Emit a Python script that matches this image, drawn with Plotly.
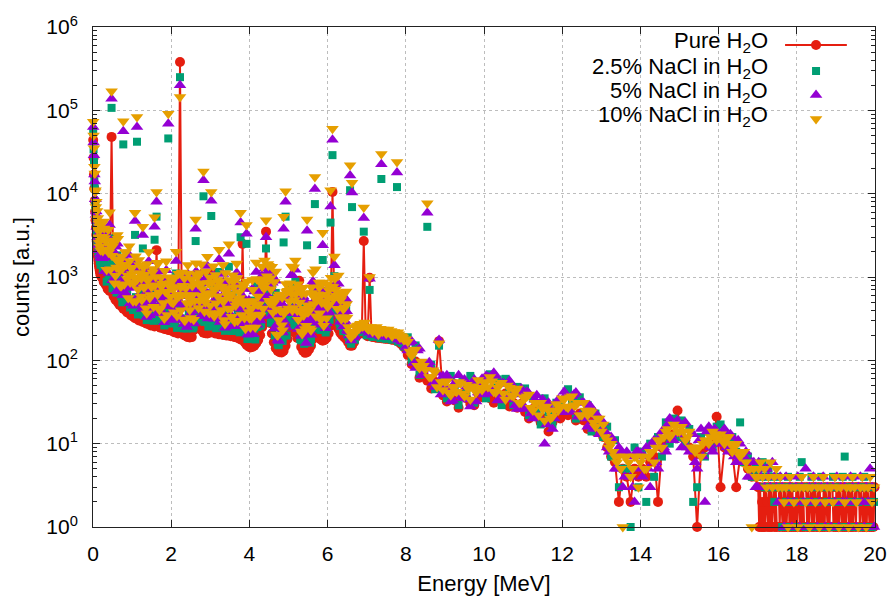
import numpy as np
import plotly.graph_objects as go

# ---------------- data (counts per energy bin) ----------------
# energy segments: (first bin centre [MeV], bin width [MeV])
SEG_A = (0.005, 0.01)
SEG_B = (0.225, 0.05)
SEG_B_MID = (0.25, 0.05)
SEG_B_UP = (0.2375, 0.05)
SEG_C = (8.05, 0.1)
SEG_C_MID = (8.1, 0.1)
SEG_D = (17.025, 0.05)
SEG_D_FINE = (17.0125, 0.025)

series_names = ["Pure H<sub>2</sub>O", "2.5% NaCl in H<sub>2</sub>O",
                "5% NaCl in H<sub>2</sub>O", "10% NaCl in H<sub>2</sub>O"]

# ---- Pure H2O ----
pure_a = [44000, 27000, 17000, 11500, 8200, 6100, 4800, 3900, 3200, 2700,
          2300, 2000, 1780, 1600, 1460, 1350, 1260, 1180, 1110, 1050]
pure_b = [990, 870, 810, 720, 680, 48000, 590, 535, 505, 465, 450, 415, 405, 375, 370, 345,
          335, 320, 318, 300, 302, 288, 287, 276, 272, 262, 263, 255, 2100, 257, 246, 248, 238, 236, 232, 229,
          226, 218, 216, 210, 380000, 212, 202, 196, 190, 188, 190, 230, 290, 300, 268, 232, 215, 212, 210, 214,
          218, 1100, 210, 213, 205, 208, 201, 205, 198, 201, 195, 197, 190, 188, 184, 178, 2500, 166, 154, 147,
          143, 145, 150, 160, 175, 200, 250, 310, 3500, 330, 280, 210, 165, 140, 130, 125, 124, 130, 150, 180,
          220, 250, 245, 215, 185, 900, 145, 130, 123, 125, 135, 150, 180, 215, 210, 190, 178, 172, 175, 185,
          210, 260, 10500, 330, 280, 240, 215, 200, 190, 180, 165, 150, 150, 165, 190, 205, 210, 212, 2700, 205,
          195, 980, 192, 190, 188, 186, 185, 184, 183, 182, 181, 180, 178, 176, 175, 172, 165, 158, 150, 142]
pure_c = [116, 90, 97, 62, 70, 57, 46, 55, 170, 38,
          32, 40, 33, 27, 40, 35, 30, 29, 40, 36,
          45, 35, 31, 39, 34, 40, 28, 31, 27, 30,
          24, 20, 26, 21, 18, 20, 14, 18, 21, 20,
          25, 22, 28, 19, 23, 19, 15, 19, 14, 14,
          12, 9, 7, 6, 2, 5, 4, 2, 5, 4,
          5, 4, 6, 7, 2, 9, 11, 12, 13, 25,
          12, 11, 9, 7, 1, 8, 9, 10, 10, 21,
          3, 9, 10, 8, 3, 7, 6, 5, 4, 4]
pure_d = [3, 1, 3, 1, 2, 1, 3, 1, 3, 2, 1, 3, 1, 3, 1, 2, 3, 1, 3, 1,
          None, 3, 1, 3, 2, 1, 3, 1, 3, 1, 2, 3, 1, 3, 1, 3, 1, 2, 1, 3,
          1, 3, 2, 1, 3, 1, 3, 1, None, 3, 1, 3, 1, 2, 3, 1, 3, 1, 3, 2,
          1, 3, 1, 3, 1, 2, 1, 3, 1, 3, 2, 1, 3, 1, 3, None, 3, 1, 2, 1,
          3, 1, 3, 1, 3, 2, 1, 3, 1, 3, 1, 2, 3, 1, 3, 1, 3, 1, 2, 3,
          1, 3, None, 3, 1, 3, 2, 1, 3, 1, 3, 1, 3, 2, 1, 3, 1, 3, 1, 3]

# ---- 2.5% NaCl ----
nacl25_a = [55000, 34000, 24000, 14000, 11500, 7200, 6800, 4600, 4700, 3300,
            3600, 2500, 2900, 2000, 2500, 1750, 2300, 1550, 2100, 1400]
nacl25_b = [2574, 2697, 1701, 1368, 2900, 107000, 1534, 749, 1818, 977, 585, 39000, 1174, 638, 1332, 794,
            402, 3200, 42000, 930, 423, 2200, 660, 304, 1115, 419, 684, 2800, 5300, 848, 320, 521, 262, 873, 46000, 389,
            588, 283, 1102, 399, 250000, 657, 242, 451, 779, 282, 551, 253, 2700, 630, 375, 812, 9300, 339, 966, 278,
            5400, 763, 273, 554, 1148, 291, 784, 226, 455, 1327, 293, 611, 228, 808, 350, 3000, 447, 232, 2500, 309,
            186, 522, 240, 816, 368, 260, 775, 496, 2200, 858, 364, 756, 314, 644, 156, 363, 186, 2600, 5300, 414,
            352, 775, 319, 882, 278, 416, 174, 429, 172, 2400, 284, 180, 648, 7500, 357, 513, 231, 1600, 333, 240,
            441, 4500, 29000, 1023, 420, 624, 258, 380, 247, 414, 198, 11000, 6900, 180, 210, 220, 232, 228, 3500, 222,
            215, 700, 205, 212, 200, 205, 198, 15000, 200, 192, 205, 190, 196, 185, 198, 12000, 180, 175, 165, 158]
nacl25_b_mid = [1209, 1512, 880, 1050, 1365, 732, 896, 650, 922, 641, 497, 697, 507, 818, 430, 510,
                426, 574, 355, 452, 620, 346, 450, 343, 507, 368, 298, 435, 333, 552, 296, 365, 320, 421, 276, 365,
                289, 391, 245, 315, 441, 248, 318, 241, 359, 265, 242, 442, 384, 625, 300, 336, 289, 380, 254, 346,
                278, 380, 243, 314, 433, 246, 325, 251, 378, 277, 225, 328, 246, 409, 217, 263, 227, 288, 180, 232,
                187, 265, 178, 251, 393, 270, 448, 400, 627, 427, 282, 318, 198, 297, 152, 186, 171, 252, 198, 320,
                306, 446, 265, 300, 357, 180, 221, 158, 236, 182, 163, 281, 256, 466, 240, 276, 236, 311, 216, 317,
                306, 502, 384, 458, 494, 285, 333, 224, 259, 206, 174, 158, 181, 177, 218, 218, 243, 223, 231, 200,
                205, 212, 191, 217, 196, 204, 184, 192, 209, 181, 198, 188, 177, 193, 182, 168, 178, 162, 146, 152]
nacl25_c = [189, 100, 151, 67, 90, 4000, 89, 45, 150, 60,
            35, 65, 48, 29, 57, 40, 65, 31, 55, 48,
            35, 68, 47, 59, 29, 60, 43, 29, 48, 30,
            46, 22, 35, 24, 17, 35, 23, 17, 31, 31,
            25, 45, 33, 20, 36, 23, 29, 14, 23, 16,
            12, 16, 7, 11, 3, 5, 5, 1, 9, 3,
            8, 2, 10, 4, 12, 7, 18, 10, 20, 12,
            19, 10, 15, 2, 3, 12, 7, 14, 9, 16,
            17, 13, 9, 12, 8, 18, 6, 7, 4, 5]
nacl25_d = [5, 4, 6, 3, 4, 5, 3, 4, 2, 3, 4, 3, 1, 3, 2, 4, 1, 3, 2, 1,
            3, 4, 6, 2, 1, 3, 2, 4, 1, 3, 2, 1, 4, 3, 1, 2, 3, 1, 4, 2,
            3, 1, 2, 4, 7, 1, 3, 2, 4, 1, 3, 2, 1, 3, 4, 1, 2, 3, 1, 2]

# ---- 5% NaCl ----
nacl5_a = [63000, 41000, 29000, 17000, 14000, 8600, 8600, 5600, 6100, 4000,
           4700, 3000, 3800, 2400, 3300, 2100, 3000, 1850, 2800, 1700]
nacl5_b = [3416, 3654, 2187, 1728, 4200, 138000, 2035, 883, 2500, 1256, 675, 56000, 1580, 788, 1832, 1035,
           452, 4700, 63000, 1260, 498, 3200, 861, 331, 1550, 511, 907, 4000, 8000, 1157, 369, 670, 286, 1204, 69000, 481,
           780, 327, 1555, 504, 200000, 890, 273, 588, 1083, 338, 741, 276, 3800, 810, 442, 1114, 14500, 413, 1355, 321,
           8200, 1049, 315, 735, 1630, 343, 1085, 246, 594, 1899, 351, 827, 257, 1128, 442, 4500, 593, 274, 3300, 397,
           215, 718, 293, 1152, 473, 300, 1050, 605, 3000, 1139, 420, 1040, 396, 903, 176, 488, 223, 3800, 8000, 540,
           429, 1050, 367, 1226, 333, 552, 196, 585, 203, 3600, 365, 203, 891, 11400, 441, 684, 267, 2400, 420, 278,
           567, 7000, 44500, 1386, 504, 828, 290, 480, 285, 540, 223, 16500, 10300, 195, 225, 240, 250, 242, 5100, 238,
           228, 950, 220, 215, 225, 212, 218, 22500, 210, 215, 200, 212, 205, 200, 192, 18000, 192, 185, 178, 168]
nacl5_b_mid = [1674, 1176, 1989, 1120, 1885, 915, 1232, 676, 1213, 870, 605, 1107, 624, 744, 483, 816,
               754, 479, 587, 843, 413, 605, 478, 685, 347, 579, 414, 742, 371, 452, 593, 365, 616, 445, 311, 456,
               400, 304, 554, 336, 609, 311, 438, 251, 473, 359, 294, 702, 472, 568, 338, 538, 364, 633, 318, 454,
               492, 317, 401, 585, 288, 431, 345, 503, 259, 436, 314, 560, 274, 335, 434, 263, 437, 304, 203, 290,
               259, 206, 403, 267, 542, 338, 616, 416, 825, 580, 343, 505, 243, 270, 171, 298, 216, 420, 248, 420,
               541, 372, 437, 560, 238, 315, 235, 315, 161, 286, 227, 479, 286, 382, 480, 276, 455, 329, 243, 396,
               376, 590, 448, 549, 572, 342, 395, 254, 296, 232, 198, 173, 188, 195, 238, 239, 232, 265, 242, 240,
               215, 232, 201, 217, 206, 222, 193, 210, 200, 217, 189, 206, 212, 193, 199, 176, 194, 169, 168, 145]
nacl5_b_up = [2470, 3230, 1738, 2982, 1929, 2046, 1197, 2310, 1238, 1663, 880, 1280, 1580, 895, 1267, 958,
              1428, 741, 942, 1178, 775, 1094, 625, 1159, 783, 868, 546, 1126, 640, 907, 494, 760, 952, 564, 809, 641,
              582, 828, 473, 882, 606, 693, 420, 858, 475, 677, 390, 775, 1168, 708, 910, 638, 920, 485, 633, 839,
              430, 654, 844, 504, 721, 577, 869, 467, 597, 780, 510, 741, 418, 785, 531, 584, 357, 717, 380, 526,
              475, 307, 669, 408, 648, 420, 822, 1260, 792, 1113, 734, 851, 363, 411, 499, 322, 479, 297, 664, 551,
              638, 1075, 547, 624, 694, 403, 532, 282, 517, 368, 455, 330, 827, 535, 738, 374, 546, 688, 425, 665,
              488, 784, 630, 795, 513, 564, 445, 515, 357, 387]
nacl5_c = [131, 169, 81, 138, 70, 5900, 79, 48, 175, 65,
           66, 32, 53, 66, 35, 48, 28, 59, 41, 60,
           65, 40, 71, 33, 52, 37, 57, 39, 26, 46,
           26, 40, 20, 38, 30, 10, 31, 15, 26, 24,
           42, 24, 37, 41, 22, 31, 16, 27, 19, 13,
           18, 9, 12, 5, 9, 3, 8, 4, 2, 8,
           4, 9, 3, 11, 5, 14, 8, 20, 11, 19,
           9, 18, 8, 13, 5, 15, 2, 16, 8, 14,
           10, 15, 8, 12, 6, 10, 7, 4, 6, 3]
nacl5_c_mid = [162, 93, 131, 66, 85, 95, 54, 71, 39, 48,
               60, 33, 51, 37, 59, 34, 54, 32, 52, 39,
               63, 44, 65, 35, 53, 34, 52, 29, 41, 29,
               42, 23, 34, 21, 34, 17, 26, 20, 34, 24,
               39, 25, 39, 21, 31, 20, 29, 15, 22, 14,
               14, 8, 11, 5, 8, 4, 7, 3, 8, 5,
               7, 5, 10, 6, 12, 9, 17, 11, 18, 13,
               17, 9, 13, 6, 11, 7, 14, 9, 15, 10,
               14, 9, 13, 7, 11, 6, 8, 4, 6, 3]
nacl5_d = [6, 4, 5, 3, 5, 4, 3, 6, 4, 3, 2, 4, 3, 1, 4, 2, 3, 1, 2, 3,
           4, 1, 3, 2, 5, 1, 3, 2, 4, 3, 1, 2, 3, 4, 1, 3, 2, 1, 3, 2,
           4, 1, 3, 2, 3, 2, 1, 4, 3, 2, 1, 3, 4, 2, 1, 3, 2, 5, 3, 1]

# ---- 10% NaCl ----
nacl10_a = [73000, 50000, 35000, 21000, 17500, 10500, 11000, 6900, 8000, 5000,
            6200, 3700, 5100, 3000, 4400, 2600, 4000, 2300, 3700, 2100]
nacl10_b = [4287, 4637, 2689, 2110, 6000, 170000, 2555, 1032, 3197, 1544, 779, 74000, 1997, 949, 2342, 1287,
            513, 5900, 83000, 1599, 583, 4000, 1071, 367, 1994, 610, 1139, 5200, 10500, 1473, 426, 826, 317, 1541, 91000, 579,
            979, 377, 2015, 615, 145000, 1130, 309, 731, 1393, 401, 937, 306, 4900, 999, 517, 1422, 18500, 494, 1749, 370,
            10500, 1342, 363, 922, 2118, 401, 1393, 273, 738, 2478, 415, 1050, 291, 1453, 539, 5900, 745, 321, 4200, 488,
            247, 918, 350, 1493, 583, 346, 1333, 722, 4800, 1429, 484, 1330, 484, 1166, 199, 616, 264, 5300, 10700, 671,
            513, 1333, 424, 1576, 394, 693, 222, 745, 238, 4900, 450, 230, 1139, 15800, 531, 861, 307, 3400, 513, 320,
            699, 11000, 60000, 1759, 596, 1039, 329, 586, 329, 671, 252, 22000, 13500, 210, 245, 262, 270, 258, 6800, 255,
            240, 1000, 235, 245, 228, 240, 232, 30000, 235, 226, 222, 218, 225, 212, 208, 24000, 205, 196, 188, 178]
nacl10_b_mid = [2046, 2940, 1224, 1960, 1235, 2318, 840, 1300, 1504, 779, 1253, 820, 1404, 558, 859, 1088,
                984, 510, 711, 1114, 531, 749, 422, 904, 561, 763, 440, 998, 614, 402, 766, 486, 664, 351, 782, 502,
                488, 760, 341, 588, 399, 787, 299, 483, 586, 321, 609, 520, 1062, 426, 600, 717, 385, 570, 848, 454,
                642, 338, 485, 773, 371, 533, 305, 663, 418, 574, 333, 753, 454, 298, 561, 350, 470, 240, 510, 319,
                317, 515, 248, 468, 355, 855, 420, 800, 1023, 519, 711, 374, 547, 203, 305, 397, 229, 378, 660, 420,
                705, 397, 529, 740, 306, 390, 207, 416, 260, 377, 241, 644, 473, 339, 620, 368, 490, 260, 612, 436,
                470, 767, 544, 702, 416, 547, 312, 410, 315, 327, 221, 188, 212, 212, 257, 239, 274, 254, 284, 250,
                234, 251, 220, 236, 252, 204, 239, 220, 228, 208, 234, 215, 195, 219, 208, 218, 186, 193, 175, 179]
nacl10_b_up = [3040, 3825, 2133, 3692, 2394, 1798, 2736, 1628, 2871, 1201, 1760, 1404, 1975, 1044, 1557, 1265,
               830, 1771, 942, 1389, 954, 1296, 767, 1435, 972, 763, 1248, 794, 1485, 655, 988, 833, 1190, 658, 993, 847,
               717, 981, 581, 1092, 752, 609, 960, 605, 1102, 489, 780, 850, 1460, 826, 1118, 844, 535, 1161, 633, 989,
               860, 717, 1055, 588, 886, 762, 505, 1117, 597, 920, 627, 878, 513, 972, 659, 513, 816, 505, 882, 380,
               418, 701, 471, 945, 468, 840, 901, 1575, 924, 1367, 969, 495, 869, 411, 589, 397, 567, 365, 822, 684,
               844, 625, 1309, 624, 819, 496, 630, 346, 640, 457, 400, 754, 583, 1241, 533, 748, 598, 860, 496, 817,
               577, 980, 756, 954, 594, 658, 530, 634, 432, 475]
nacl10_c = [167, 113, 135, 81, 86, 7700, 63, 72, 160, 44,
            56, 38, 48, 55, 40, 51, 34, 46, 58, 44,
            55, 63, 42, 47, 54, 34, 47, 37, 46, 31,
            35, 39, 25, 31, 31, 19, 25, 21, 30, 28,
            34, 27, 37, 29, 22, 31, 22, 24, 16, 20,
            17, 11, 10, 7, 7, 1, 7, 4, 7, 3,
            7, 5, 8, 6, 11, 9, 14, 12, 17, 14,
            16, 11, 14, 9, 9, 7, 11, 10, 14, 11,
            13, 10, 12, 8, 10, 7, 8, 5, 1, 4]
nacl10_c_mid = [128, 133, 86, 97, 77, 63, 76, 48, 55, 55,
                41, 48, 42, 53, 37, 45, 49, 41, 47, 54,
                48, 56, 41, 51, 40, 50, 38, 42, 31, 36,
                37, 27, 31, 22, 26, 28, 20, 25, 25, 35,
                28, 36, 29, 31, 22, 25, 25, 18, 20, 14,
                12, 9, 8, 6, 5, 7, 6, 5, 7, 6,
                5, 7, 8, 9, 11, 12, 15, 13, 16, 14,
                14, 12, 9, 8, 9, 10, 11, 12, 13, 12,
                11, 12, 10, 9, 8, 8, 6, 5, 5, 4]
nacl10_d = [5, 6, 4, 5, 3, 4, 6, 3, 4, 5, 3, 4, 3, 2, 3, 1, 4, 3, 2, 3,
            1, 3, 4, 3, 2, 3, 1, 3, 4, 2, 3, 1, 3, 4, 2, 3, 1, 3, 2, 4,
            3, 1, 3, 4, 2, 3, 1, 3, 4, 3, 2, 1, 3, 4, 3, 1, 3, 4, 2, 3]

x_tick_vals = [0, 2, 4, 6, 8, 10, 12, 14, 16, 18, 20]
y_tick_vals = [1, 10, 100, 1000, 1e4, 1e5, 1e6]
y_tick_text = ["10<sup>%d</sup>" % k for k in range(7)]


def build(parts, sort=False):
    e = np.concatenate([s[0] + s[1] * np.arange(len(v)) for s, v in parts])
    y = np.array([val for _, v in parts for val in v], dtype=float)
    if sort:
        order = np.argsort(e, kind="stable")
        e, y = e[order], y[order]
    return e, y


e0, y0 = build([(SEG_A, pure_a), (SEG_B, pure_b), (SEG_C, pure_c), (SEG_D_FINE, pure_d)], sort=True)
e1, y1 = build([(SEG_A, nacl25_a), (SEG_B, nacl25_b), (SEG_B_MID, nacl25_b_mid),
                (SEG_C, nacl25_c), (SEG_D, nacl25_d)])
e2, y2 = build([(SEG_A, nacl5_a), (SEG_B, nacl5_b), (SEG_B_MID, nacl5_b_mid), (SEG_B_UP, nacl5_b_up),
                (SEG_C, nacl5_c), (SEG_C_MID, nacl5_c_mid), (SEG_D, nacl5_d)])
e3, y3 = build([(SEG_A, nacl10_a), (SEG_B, nacl10_b), (SEG_B_MID, nacl10_b_mid), (SEG_B_UP, nacl10_b_up),
                (SEG_C, nacl10_c), (SEG_C_MID, nacl10_c_mid), (SEG_D, nacl10_d)])

RED, GREEN, PURPLE, ORANGE = "#e51e10", "#009e73", "#9400d3", "#e69f00"
FONT = "Liberation Sans, Arial, sans-serif"
SZ_CIRCLE, SZ_SQUARE, SZ_TRI = 10, 8, 11

fig = go.Figure()
fig.add_trace(go.Scatter(x=e0, y=y0, mode="lines+markers", cliponaxis=False,
                         line=dict(color=RED, width=2),
                         marker=dict(symbol="circle", size=SZ_CIRCLE, color=RED),
                         showlegend=False, hoverinfo="skip"))
fig.add_trace(go.Scatter(x=e1, y=y1, mode="markers", cliponaxis=False,
                         marker=dict(symbol="square", size=SZ_SQUARE, color=GREEN),
                         showlegend=False, hoverinfo="skip"))
fig.add_trace(go.Scatter(x=e2, y=y2, mode="markers", cliponaxis=False,
                         marker=dict(symbol="triangle-up", size=SZ_TRI, color=PURPLE),
                         showlegend=False, hoverinfo="skip"))
fig.add_trace(go.Scatter(x=e3, y=y3, mode="markers", cliponaxis=False,
                         marker=dict(symbol="triangle-down", size=SZ_TRI, color=ORANGE),
                         showlegend=False, hoverinfo="skip"))

# ---- gnuplot-style key (text right-aligned, sample to the right) ----
key_x_text = 0.8657
key_y_text = [0.970, 0.918, 0.871, 0.822]
key_y_mark = [0.964, 0.912, 0.864, 0.816]
key_x_mark = 0.9246
fig.add_trace(go.Scatter(x=[0.885, 0.964], y=[key_y_mark[0]] * 2, xaxis="x2", yaxis="y2",
                         mode="lines", line=dict(color=RED, width=2),
                         showlegend=False, hoverinfo="skip", cliponaxis=False))
key_styles = [("circle", SZ_CIRCLE, RED), ("square", SZ_SQUARE, GREEN),
              ("triangle-up", SZ_TRI, PURPLE), ("triangle-down", SZ_TRI, ORANGE)]
for (sym, sz, col), yy in zip(key_styles, key_y_mark):
    fig.add_trace(go.Scatter(x=[key_x_mark], y=[yy], xaxis="x2", yaxis="y2", mode="markers",
                             marker=dict(symbol=sym, size=sz, color=col),
                             showlegend=False, hoverinfo="skip", cliponaxis=False))
for name, yy in zip(series_names, key_y_text):
    fig.add_annotation(x=key_x_text, y=yy, xref="paper", yref="paper", text=name,
                       showarrow=False, xanchor="right", yanchor="middle",
                       font=dict(family=FONT, size=22, color="black"))

axis_common = dict(showline=True, linecolor="#222222", linewidth=1, mirror="ticks",
                   ticks="inside", ticklen=7, tickcolor="#222222",
                   showgrid=True, gridcolor="#bdbdbd", griddash="dot", gridwidth=1,
                   zeroline=False, automargin=False,
                   tickfont=dict(family=FONT, size=21, color="black"))

fig.update_layout(
    width=890, height=596,
    margin=dict(l=93, r=15, t=27, b=69, autoexpand=False),
    paper_bgcolor="white", plot_bgcolor="white",
    font=dict(family=FONT, color="black"),
    xaxis=dict(range=[0, 20], tickmode="array", tickvals=x_tick_vals,
               title=dict(text="Energy [MeV]", font=dict(family=FONT, size=22), standoff=20),
               ticklabelstandoff=8, **axis_common),
    yaxis=dict(type="log", range=[0, 6], tickmode="array", tickvals=y_tick_vals,
               ticktext=y_tick_text,
               title=dict(text="counts [a.u.]", font=dict(family=FONT, size=22), standoff=10),
               ticklabelstandoff=10,
               minor=dict(ticks="inside", ticklen=4, tickcolor="#222222", dtick="D1",
                          showgrid=False),
               **axis_common),
    xaxis2=dict(overlaying="x", range=[0, 1], visible=False, anchor="y2"),
    yaxis2=dict(overlaying="y", range=[0, 1], visible=False, anchor="x2"),
)

fig.write_html("out.html")
